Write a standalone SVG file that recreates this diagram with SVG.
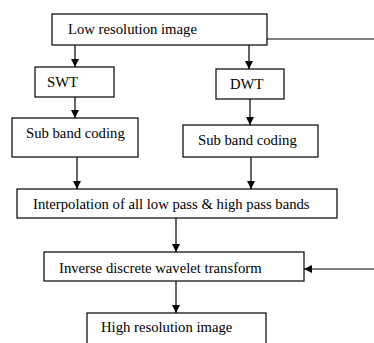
<svg xmlns="http://www.w3.org/2000/svg" width="374" height="343" viewBox="0 0 374 343">
<style>
.box{fill:#fff;stroke:#000;stroke-width:1.2}
.t{font-family:"Liberation Serif","Times New Roman",serif;font-size:14.7px;fill:#000}
.c{stroke:#000;stroke-width:1.2;fill:none}
</style>
<defs>
<marker id="ah" markerWidth="8" markerHeight="8" refX="8" refY="4" orient="auto" markerUnits="userSpaceOnUse">
<path d="M0,0 L8,4 L0,8 Z" fill="#000"/>
</marker>
</defs>
<rect width="374" height="343" fill="#fff"/>
<g id="connectors">
<line class="c" x1="267" y1="39" x2="374" y2="39"/>
<line class="c" x1="75" y1="45" x2="75" y2="67" marker-end="url(#ah)"/>
<line class="c" x1="249" y1="45" x2="249" y2="69" marker-end="url(#ah)"/>
<line class="c" x1="75" y1="97" x2="75" y2="118" marker-end="url(#ah)"/>
<line class="c" x1="250" y1="99" x2="250" y2="125" marker-end="url(#ah)"/>
<line class="c" x1="77" y1="157" x2="77" y2="189" marker-end="url(#ah)"/>
<line class="c" x1="251" y1="157" x2="251" y2="189" marker-end="url(#ah)"/>
<line class="c" x1="176" y1="218" x2="176" y2="252" marker-end="url(#ah)"/>
<line class="c" x1="374" y1="269" x2="304" y2="269" marker-end="url(#ah)"/>
<line class="c" x1="176" y1="281" x2="176" y2="313" marker-end="url(#ah)"/>
</g>
<g id="low">
<rect class="box" x="52" y="14" width="215" height="31"/>
<text class="t" x="68" y="34">Low resolution image</text>
</g>
<g id="swt">
<rect class="box" x="35" y="67" width="79" height="30"/>
<text class="t" x="47" y="87">SWT</text>
</g>
<g id="dwt">
<rect class="box" x="216" y="69" width="68" height="30"/>
<text class="t" x="230" y="89">DWT</text>
</g>
<g id="sub1">
<rect class="box" x="12" y="118" width="126" height="39"/>
<text class="t" x="26" y="138">Sub band coding</text>
</g>
<g id="sub2">
<rect class="box" x="183" y="125" width="135" height="32"/>
<text class="t" x="198" y="145">Sub band coding</text>
</g>
<g id="interp">
<rect class="box" x="17" y="189" width="320" height="29"/>
<text class="t" x="33" y="209">Interpolation of all low pass &amp; high pass bands</text>
</g>
<g id="idwt">
<rect class="box" x="44" y="252" width="260" height="29"/>
<text class="t" x="59" y="273">Inverse discrete wavelet transform</text>
</g>
<g id="high">
<rect class="box" x="87" y="313" width="179" height="40"/>
<text class="t" x="101" y="332">High resolution image</text>
</g>
</svg>
